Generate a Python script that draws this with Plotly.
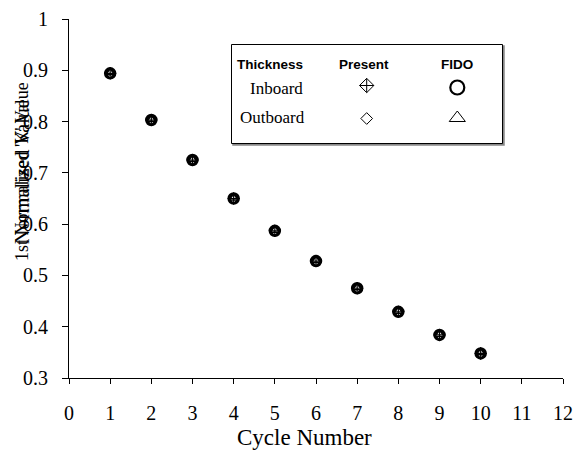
import plotly.graph_objects as go

# ---- data ----
cycles = [1, 2, 3, 4, 5, 6, 7, 8, 9, 10]
present_inboard = [0.894, 0.803, 0.725, 0.650, 0.587, 0.528, 0.475, 0.429, 0.384, 0.348]
present_outboard = [0.894, 0.803, 0.725, 0.650, 0.587, 0.528, 0.475, 0.429, 0.384, 0.348]
fido_inboard = [0.895, 0.804, 0.726, 0.651, 0.588, 0.529, 0.476, 0.430, 0.385, 0.349]
fido_outboard = [0.894, 0.803, 0.725, 0.650, 0.587, 0.528, 0.475, 0.429, 0.384, 0.348]

x_ticks = list(range(0, 13))
y_ticks = [0.3, 0.4, 0.5, 0.6, 0.7, 0.8, 0.9, 1.0]
y_tick_labels = ["0.3", "0.4", "0.5", "0.6", "0.7", "0.8", "0.9", "1"]

legend_cols = ["Thickness", "Present", "FIDO"]
legend_rows = ["Inboard", "Outboard"]
y_titles = ["Normalized Value", "1st Normalised 'K' Value"]
x_title = "Cycle Number"

# ---- layout geometry (pixels) ----
W, H = 573, 451
L, R, T, B = 69, 10, 19, 73
X0, X1, Y0, Y1 = L, W - R, T, H - B  # plot area in pixels
PW, PH = X1 - X0, Y1 - Y0

SERIF = "Liberation Serif, Times New Roman, serif"
SANS = "Liberation Sans, Arial, sans-serif"

fig = go.Figure()

series = [
    ("Present Inboard", present_inboard, "circle-open", 10, 2.5),
    ("Present Outboard", present_outboard, "diamond-open", 8, 1.5),
    ("FIDO Inboard", fido_inboard, "triangle-up-open", 8, 1.5),
    ("FIDO Outboard", fido_outboard, "diamond-cross-open", 8, 1.2),
]
for name, vals, sym, sz, lw in series:
    fig.add_trace(go.Scatter(
        x=cycles, y=vals, mode="markers", name=name, showlegend=False,
        marker=dict(symbol=sym, size=sz, color="black", line=dict(color="black", width=lw)),
    ))

# legend key symbols on a pixel-based overlay axis
key_x = [366.7, 457.3, 366.7, 457.3]
key_y = [85.5, 87.5, 118.5, 118.0]
key_sym = ["diamond-cross-open", "circle-open", "diamond-open", "triangle-up-open"]
key_size = [11, 14, 9, 14]
key_lw = [1, 2.2, 1, 1]
for kx, ky, ks, kz, kl in zip(key_x, key_y, key_sym, key_size, key_lw):
    fig.add_trace(go.Scatter(
        x=[kx], y=[ky], xaxis="x2", yaxis="y2", mode="markers", showlegend=False,
        hoverinfo="skip",
        marker=dict(symbol=ks, size=kz, color="black", line=dict(color="black", width=kl)),
    ))

# legend box: shadow then box
box = dict(x0=231.5, x1=502.5, y0=44.5, y1=143.5)
fig.add_shape(type="rect", xref="x2", yref="y2",
              x0=box["x0"] + 1.5, x1=box["x1"] + 1.5, y0=box["y0"] + 1.5, y1=box["y1"] + 1.5,
              line=dict(color="#888888", width=1.5), fillcolor="#888888", layer="below")
fig.add_shape(type="rect", xref="x2", yref="y2", layer="below",
              x0=box["x0"], x1=box["x1"], y0=box["y0"], y1=box["y1"],
              line=dict(color="black", width=1), fillcolor="white")

head_x = [270, 364, 457]
for txt, hx in zip(legend_cols, head_x):
    fig.add_annotation(x=hx, y=64, xref="x2", yref="y2", text="<b>%s</b>" % txt,
                       showarrow=False, font=dict(family=SANS, size=13.5, color="black"))
row_x = [276.5, 272.5]
row_y = [88, 117.5]
for txt, rx, ry in zip(legend_rows, row_x, row_y):
    fig.add_annotation(x=rx, y=ry, xref="x2", yref="y2", text=txt,
                       showarrow=False, font=dict(family=SERIF, size=17, color="black"))

# y-axis titles (two overlapping, as in the reference), in paper coordinates
for txt, fs in zip(y_titles, [20, 18]):
    fig.add_annotation(x=(22 - X0) / PW, y=(Y1 - 172) / PH, xref="paper", yref="paper",
                       xanchor="center", yanchor="middle",
                       text=txt, textangle=-90, showarrow=False,
                       font=dict(family=SERIF, size=fs, color="black"))

# x-axis title
fig.add_annotation(x=(304 - X0) / PW, y=(Y1 - 437) / PH, xref="paper", yref="paper",
                   xanchor="center", yanchor="middle", text=x_title, showarrow=False,
                   font=dict(family=SERIF, size=23, color="black"))

fig.update_layout(
    width=W, height=H, autosize=False,
    margin=dict(l=L, r=R, t=T, b=B, pad=0, autoexpand=False),
    paper_bgcolor="white", plot_bgcolor="white",
    font=dict(family=SERIF, size=16, color="black"),
    xaxis=dict(range=[0, 12], tickvals=x_ticks, ticks="outside", ticklen=5, tickwidth=1,
               tickcolor="black", showline=True, linecolor="black", linewidth=1,
               showgrid=False, zeroline=False, ticklabelstandoff=12, automargin=False,
               tickfont=dict(family=SERIF, size=20)),
    yaxis=dict(range=[0.3, 1.0], tickvals=y_ticks, ticktext=y_tick_labels, ticks="outside",
               ticklen=6, tickwidth=1, tickcolor="black", showline=True, linecolor="black",
               linewidth=1, showgrid=False, zeroline=False, ticklabelstandoff=10,
               automargin=False, tickfont=dict(family=SERIF, size=20)),
    xaxis2=dict(range=[X0, X1], overlaying="x", visible=False, fixedrange=True),
    yaxis2=dict(range=[Y1, Y0], overlaying="y", visible=False, fixedrange=True),
)

fig.write_html("out.html")
